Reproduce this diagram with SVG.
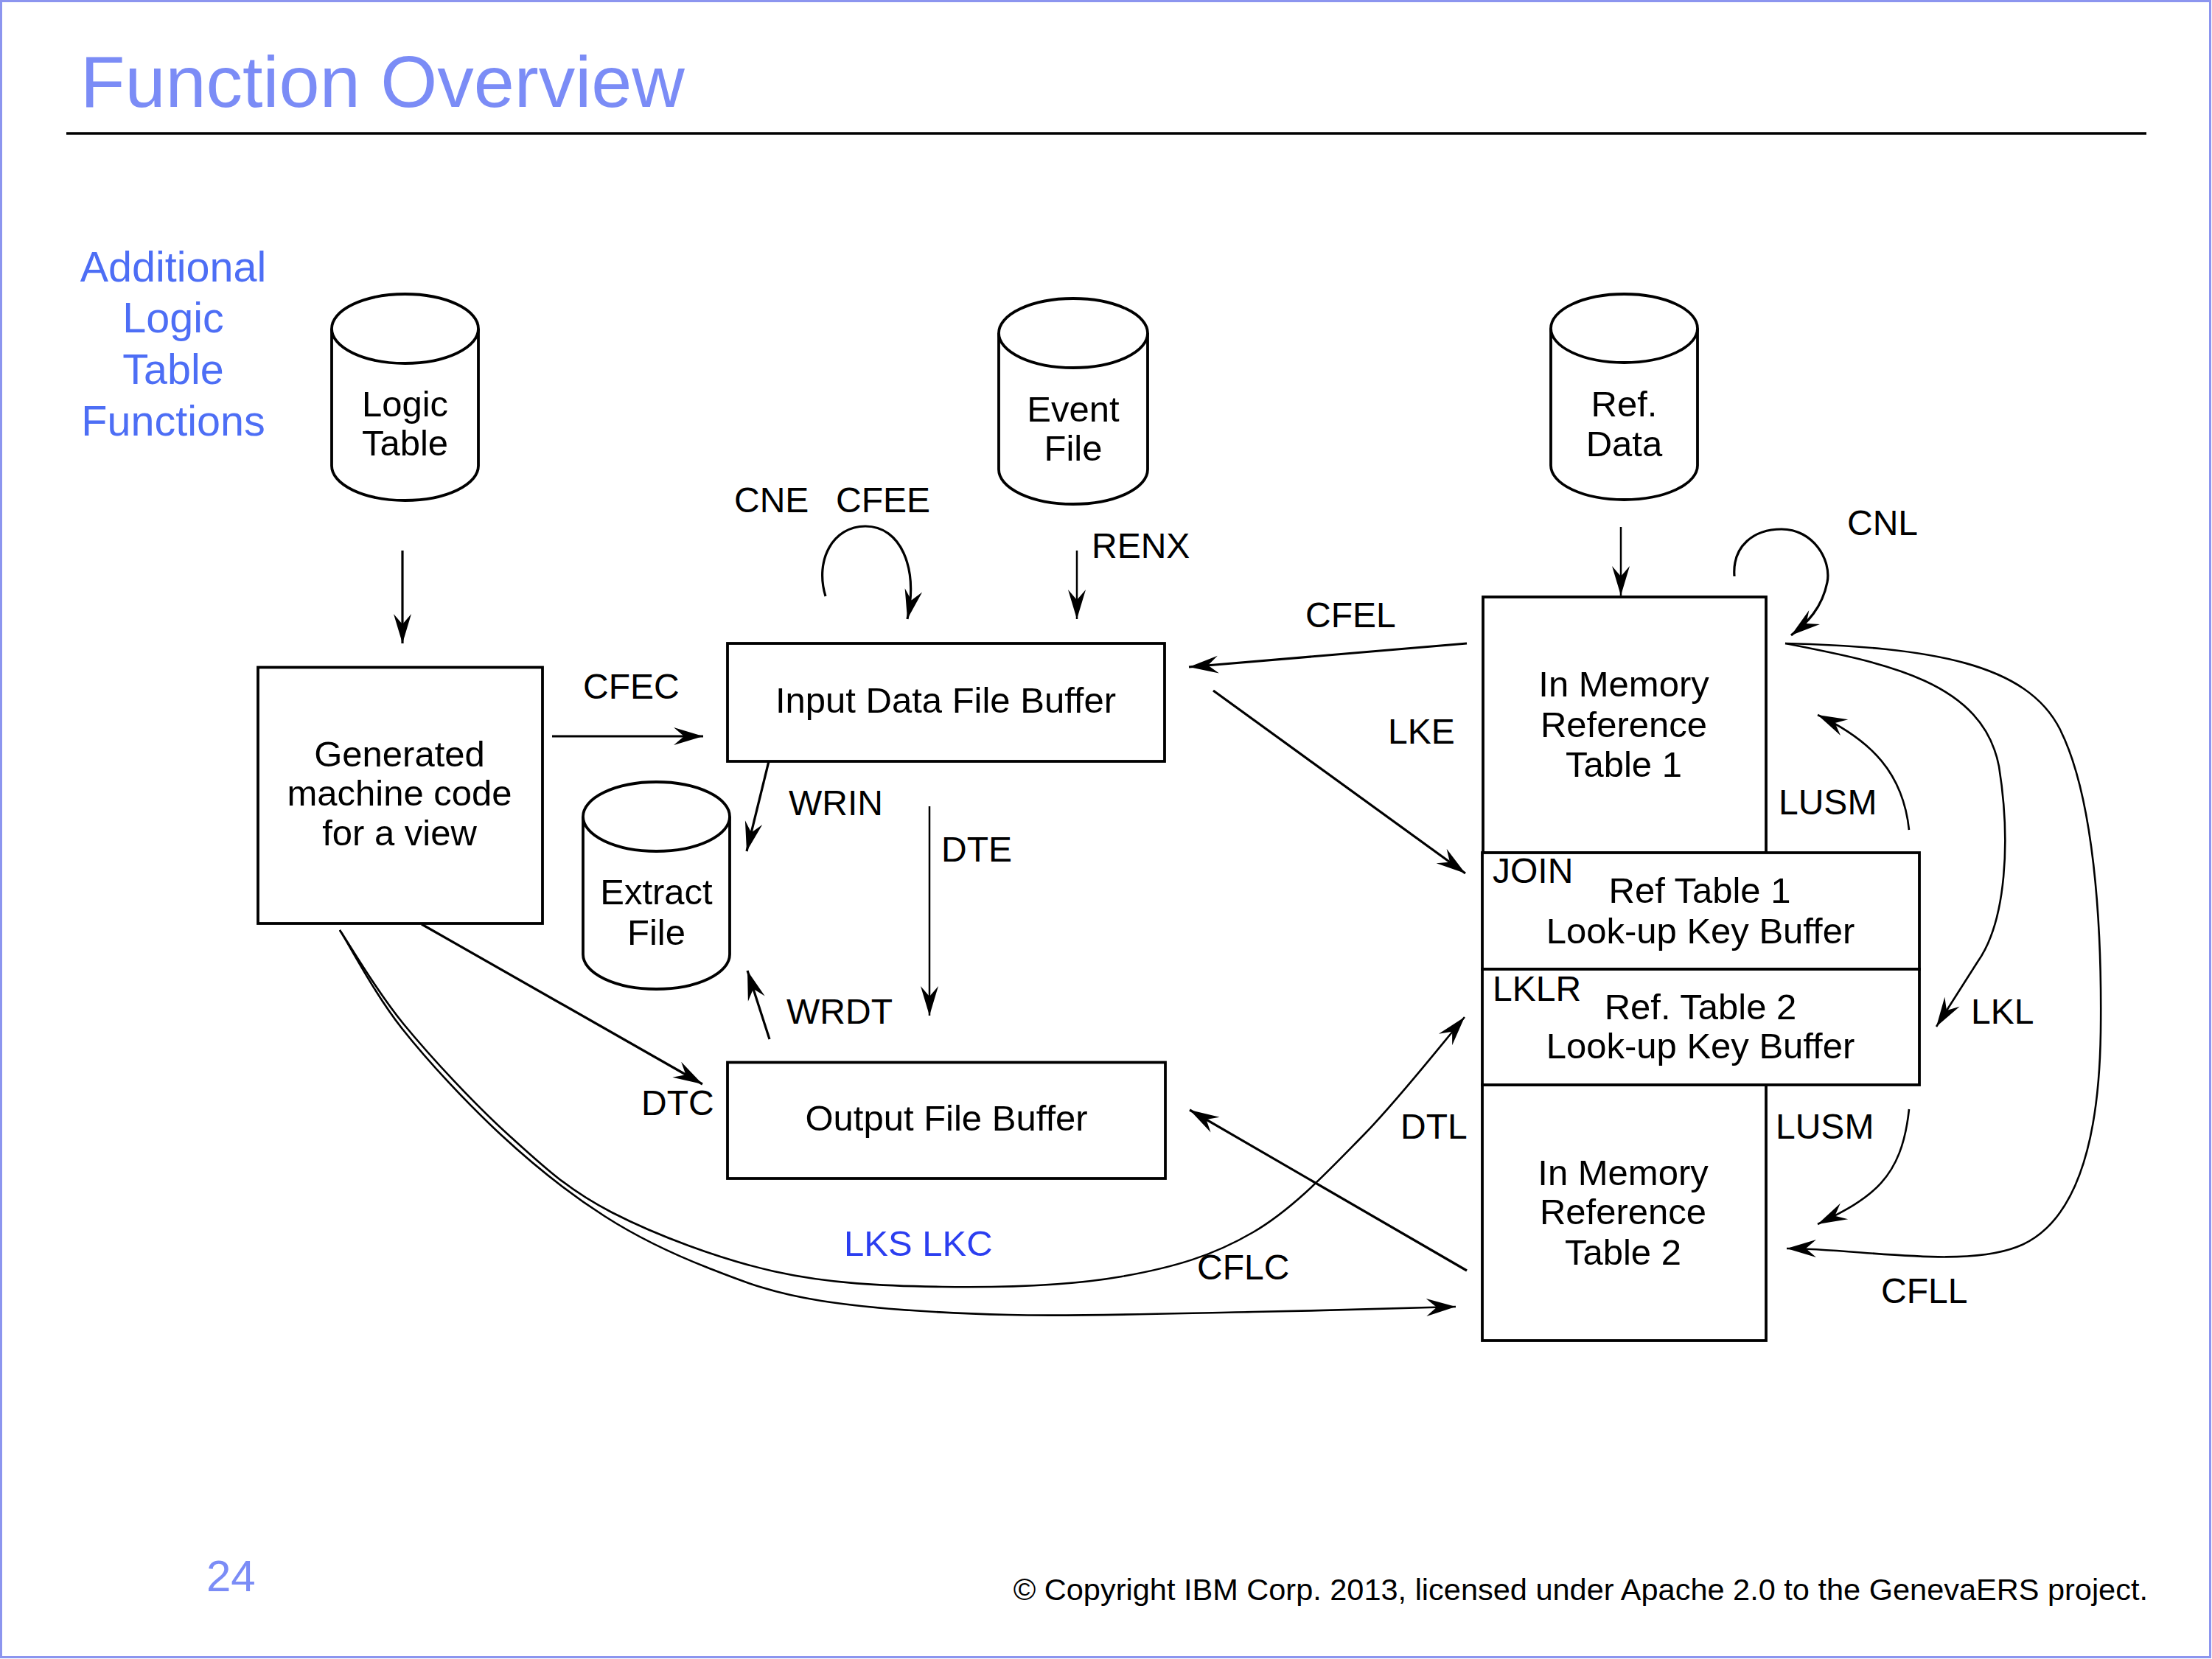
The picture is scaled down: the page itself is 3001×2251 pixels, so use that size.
<svg xmlns="http://www.w3.org/2000/svg" width="3001" height="2251" viewBox="0 0 3001 2251">
<style>
text{font-family:"Liberation Sans",Arial,sans-serif;fill:#000}
.t{font-size:49px;text-anchor:middle}
.l{font-size:48px}
.box{fill:#fff;stroke:#000;stroke-width:3.8}
.cyl{fill:#fff;stroke:#000;stroke-width:3.8}
.c{fill:none;stroke:#000;stroke-width:3.2;marker-end:url(#ah)}
.thin{stroke-width:2.5}
.cv{stroke-width:2.6}
</style>
<defs>
<marker id="ah" markerUnits="userSpaceOnUse" markerWidth="50" markerHeight="30" viewBox="-45 -15 50 30" refX="0" refY="0" orient="auto">
<path d="M0,0 L-40,-12 L-26,0 L-40,12 Z" fill="#000"/>
</marker>
</defs>
<rect x="0" y="0" width="3001" height="2251" fill="#fff"/>
<rect x="1.5" y="1.5" width="2997" height="2247" fill="none" stroke="#8c95ef" stroke-width="3"/>
<g id="title">
<text x="109" y="145" style="font-size:99px;fill:#7b8cf6">Function Overview</text>
<line x1="90" y1="181" x2="2912" y2="181" stroke="#000" stroke-width="3.5"/>
</g>
<g id="side-label">
<text x="235" y="382" style="font-size:57.5px;fill:#4d6ef5;text-anchor:middle">Additional</text>
<text x="235" y="451" style="font-size:57.5px;fill:#4d6ef5;text-anchor:middle">Logic</text>
<text x="235" y="521" style="font-size:57.5px;fill:#4d6ef5;text-anchor:middle">Table</text>
<text x="235" y="591" style="font-size:57.5px;fill:#4d6ef5;text-anchor:middle">Functions</text>
</g>
<g id="logic-table">
<path class="cyl" d="M450,446 L450,632 A99.5,47 0 0 0 649,632 L649,446"/>
<ellipse class="cyl" cx="549.5" cy="446" rx="99.5" ry="47"/>
<text class="t" x="549.5" y="565">Logic</text>
<text class="t" x="549.5" y="618">Table</text>
</g>
<g id="event-file">
<path class="cyl" d="M1355,452 L1355,637 A101,47 0 0 0 1557,637 L1557,452"/>
<ellipse class="cyl" cx="1456" cy="452" rx="101" ry="47"/>
<text class="t" x="1456" y="572">Event</text>
<text class="t" x="1456" y="625">File</text>
</g>
<g id="ref-data">
<path class="cyl" d="M2104,445.5 L2104,631.5 A99.5,46.5 0 0 0 2303,631.5 L2303,445.5"/>
<ellipse class="cyl" cx="2203.5" cy="445.5" rx="99.5" ry="46.5"/>
<text class="t" x="2203.5" y="565">Ref.</text>
<text class="t" x="2203.5" y="619">Data</text>
</g>
<g id="extract-file">
<path class="cyl" d="M791,1108 L791,1295 A99.5,47 0 0 0 990,1295 L990,1108"/>
<ellipse class="cyl" cx="890.5" cy="1108" rx="99.5" ry="47"/>
<text class="t" x="890.5" y="1227">Extract</text>
<text class="t" x="890.5" y="1282">File</text>
</g>
<g id="generated-code">
<rect class="box" x="350" y="905.5" width="386" height="347.5"/>
<text class="t" x="542" y="1040">Generated</text>
<text class="t" x="542" y="1093">machine code</text>
<text class="t" x="542" y="1147">for a view</text>
</g>
<g id="input-buffer">
<rect class="box" x="987" y="873" width="593" height="160"/>
<text class="t" x="1283" y="967">Input Data File Buffer</text>
</g>
<g id="output-buffer">
<rect class="box" x="987" y="1441.5" width="594" height="157.5"/>
<text class="t" x="1284" y="1534">Output File Buffer</text>
</g>
<g id="in-memory-1">
<rect class="box" x="2012" y="810" width="384" height="347"/>
<text class="t" x="2203" y="945">In Memory</text>
<text class="t" x="2203" y="1000">Reference</text>
<text class="t" x="2203" y="1054">Table 1</text>
</g>
<g id="in-memory-2">
<rect class="box" x="2011" y="1472" width="385" height="347"/>
<text class="t" x="2202" y="1608">In Memory</text>
<text class="t" x="2202" y="1661">Reference</text>
<text class="t" x="2202" y="1716">Table 2</text>
</g>
<g id="ref-table-1-buffer">
<rect class="box" x="2011" y="1157" width="593" height="158"/>
<text class="l" x="2025" y="1198">JOIN</text>
<text class="t" x="2306" y="1225">Ref Table 1</text>
<text class="t" x="2307" y="1280">Look-up Key Buffer</text>
</g>
<g id="ref-table-2-buffer">
<rect class="box" x="2011" y="1315" width="593" height="157"/>
<text class="l" x="2025" y="1358">LKLR</text>
<text class="t" x="2307" y="1383">Ref. Table 2</text>
<text class="t" x="2307" y="1436">Look-up Key Buffer</text>
</g>
<g id="connectors">
<line class="c" x1="546" y1="747" x2="546" y2="873"/>
<line class="c thin" x1="1461" y1="747" x2="1461" y2="840"/>
<line class="c thin" x1="2199" y1="715" x2="2199" y2="808"/>
<path class="c" d="M1120,809 C1105,760 1130,714 1174,714 C1222,714 1246,770 1231,840"/>
<path class="c" d="M2353,782 C2350,740 2380,718 2417,718 C2460,718 2485,760 2479,790 C2472,825 2452,845 2430,862"/>
<line class="c" x1="749" y1="999" x2="954" y2="999"/>
<line class="c" x1="1990" y1="873" x2="1613" y2="905"/>
<line class="c" x1="1646" y1="937" x2="1988" y2="1185"/>
<line class="c" x1="1043" y1="1033" x2="1013" y2="1155"/>
<line class="c thin" x1="1261" y1="1094" x2="1261" y2="1378"/>
<line class="c" x1="1044" y1="1410" x2="1014" y2="1317"/>
<line class="c" x1="572" y1="1254" x2="953" y2="1471"/>
<line class="c" x1="1990" y1="1724" x2="1614" y2="1506"/>
<path class="c cv" d="M461,1262 C475.5,1283.3 509.8,1343.7 548,1390 C586.2,1436.3 643,1497.5 690,1540 C737,1582.5 770,1614.2 830,1645 C890,1675.8 975.3,1708.2 1050,1725 C1124.7,1741.8 1199.3,1744.8 1278,1746 C1356.7,1747.2 1451.7,1744.3 1522,1732 C1592.3,1719.7 1645.3,1704 1700,1672 C1754.7,1640 1802.2,1588.7 1850,1540 C1897.8,1491.3 1964.2,1406.7 1987,1380"/>
<path class="c cv" d="M461,1262 C475,1284.2 508.5,1348.7 545,1395 C581.5,1441.3 634.2,1497.5 680,1540 C725.8,1582.5 773.3,1620 820,1650 C866.7,1680 911,1700.8 960,1720 C1009,1739.2 1045.8,1754.3 1114,1765 C1182.2,1775.7 1271.3,1781.5 1369,1784 C1466.7,1786.5 1599,1781.8 1700,1780 C1801,1778.2 1929.2,1774.2 1975,1773"/>
<path class="c cv" d="M2590,1126 C2582,1050 2540,1005 2466,970"/>
<path class="c cv" d="M2590,1505 C2580,1600 2540,1625 2466,1661"/>
<path class="c cv" d="M2422,873 C2560,900 2690,925 2712,1040 C2728,1140 2722,1250 2683,1305 L2627,1393"/>
<path class="c cv" d="M2422,873 C2620,878 2750,900 2795,990 C2840,1080 2852,1250 2850,1400 C2848,1540 2820,1660 2736,1692 C2660,1721 2520,1694 2424,1694"/>
</g>
<g id="labels">
<text class="l" x="996" y="695">CNE</text>
<text class="l" x="1134" y="695">CFEE</text>
<text class="l" x="1481" y="757">RENX</text>
<text class="l" x="791" y="948">CFEC</text>
<text class="l" x="1771" y="851">CFEL</text>
<text class="l" x="1883" y="1009">LKE</text>
<text class="l" x="1070" y="1106">WRIN</text>
<text class="l" x="1277" y="1169">DTE</text>
<text class="l" x="1067" y="1389">WRDT</text>
<text class="l" x="870" y="1513">DTC</text>
<text class="l" x="2506" y="726">CNL</text>
<text class="l" x="2413" y="1105">LUSM</text>
<text class="l" x="2674" y="1389">LKL</text>
<text class="l" x="2409" y="1545">LUSM</text>
<text class="l" x="1900" y="1545">DTL</text>
<text class="l" x="2552" y="1768">CFLL</text>
<text class="l" x="1624" y="1736">CFLC</text>
<text x="1145" y="1704" style="font-size:49px;fill:#2b3ef0">LKS LKC</text>
</g>
<g id="footer">
<text x="280" y="2159" style="font-size:60px;fill:#7b8cf6">24</text>
<text x="2914" y="2171" style="font-size:41.5px;text-anchor:end">© Copyright IBM Corp. 2013, licensed under Apache 2.0 to the GenevaERS project.</text>
</g>
</svg>
